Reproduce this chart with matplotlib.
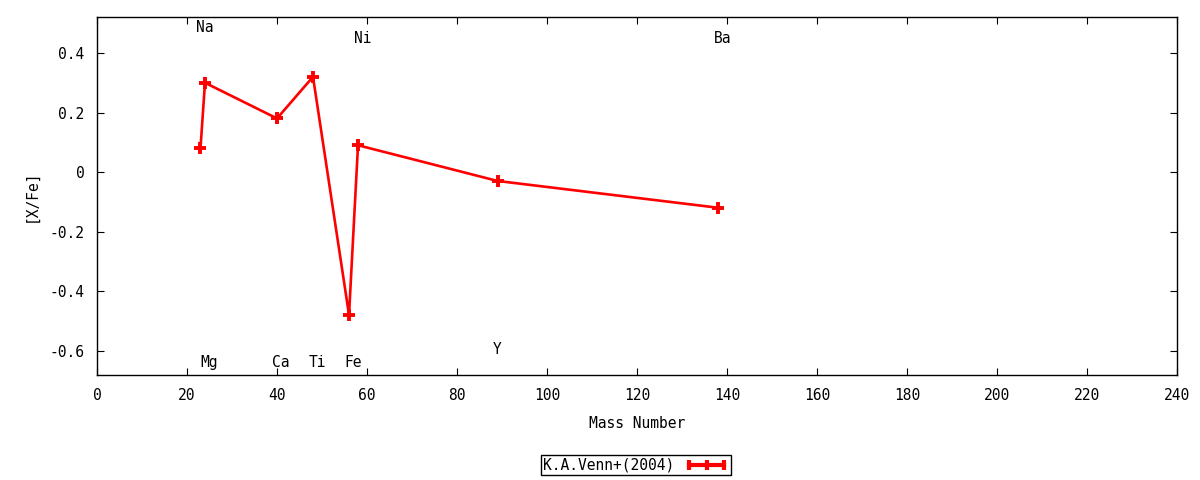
import matplotlib
matplotlib.use("Agg")
import matplotlib.pyplot as plt
from matplotlib.lines import Line2D

# K.A.Venn+(2004) abundances
elements = ["Na", "Mg", "Ca", "Ti", "Fe", "Ni", "Y", "Ba"]
mass = [23, 24, 40, 48, 56, 58, 89, 138]
xfe = [0.08, 0.30, 0.18, 0.32, -0.48, 0.09, -0.03, -0.12]

# element labels (gnuplot style, left justified)
label_x = [22, 23, 39, 47, 55, 57, 88, 137]
label_y = [0.485, -0.64, -0.64, -0.64, -0.64, 0.45, -0.595, 0.45]

xticks = list(range(0, 241, 20))
yticks = [-0.6, -0.4, -0.2, 0, 0.2, 0.4]
ytick_labels = ["-0.6", "-0.4", "-0.2", "0", "0.2", "0.4"]

plt.rcParams['font.family'] = ['DejaVu Sans Mono']
plt.rcParams['font.size'] = 10.5

fig = plt.figure(figsize=(12, 4.8), dpi=100)
ax = fig.add_axes([0.0808, 0.21875, 0.9002, 0.7459])

ax.plot(mass, xfe, color='red', lw=1.9, marker='+', ms=9, mew=2.8)

for el, lx, ly in zip(elements, label_x, label_y):
  ax.text(lx, ly, el, ha='left', va='center')

ax.set_xlim(0, 240)
ax.set_ylim(-0.682, 0.521)
ax.set_xticks(xticks)
ax.set_yticks(yticks)
ax.set_yticklabels(ytick_labels)
ax.tick_params(direction='in', top=True, right=True, length=5, width=0.8)
ax.tick_params(axis='x', pad=9)
ax.tick_params(axis='y', pad=9)
for s in ax.spines.values():
  s.set_linewidth(1)

ax.set_xlabel("Mass Number", labelpad=10)
ax.set_ylabel("[X/Fe]", labelpad=8)

handle = Line2D([], [], color='red', lw=3, marker='|', ms=7, mew=3)
leg = fig.legend([handle], ["K.A.Venn+(2004)"], loc='center', bbox_to_anchor=(0.53, 0.031),
                 numpoints=3, fancybox=False, framealpha=1, edgecolor='black',
                 handlelength=3, markerfirst=False, borderpad=0.15, handletextpad=0.7, borderaxespad=0)
leg.get_frame().set_linewidth(1)

fig.savefig("out.png", dpi=100)
